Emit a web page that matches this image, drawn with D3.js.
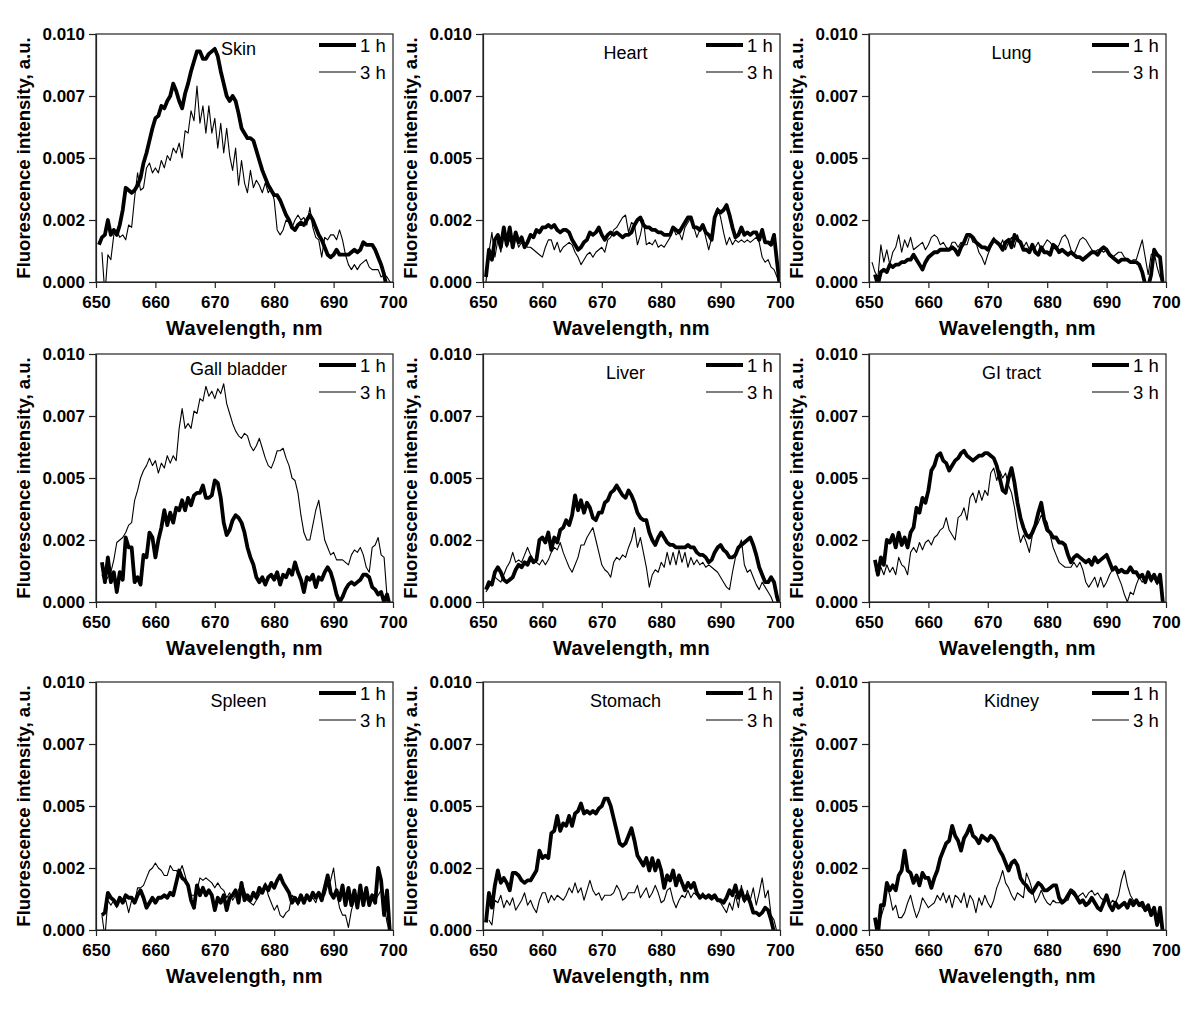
<!DOCTYPE html>
<html><head><meta charset="utf-8">
<script src="https://cdn.jsdelivr.net/npm/d3@7"></script>
<style>
body{margin:0;background:#fff}
svg{display:block}
text{font-family:"Liberation Sans",Arial,Helvetica,sans-serif;fill:#000}
</style>
</head><body>
<svg id="chart" width="1200" height="1012"></svg>
<script>
// ---- data (intensities in units of 1e-4 a.u.; null = no point) ----
const wavelengths = [
650.5,651,651.5,652,652.5,653,653.5,654,654.5,655,
655.5,656,656.5,657,657.5,658,658.5,659,659.5,660,
660.5,661,661.5,662,662.5,663,663.5,664,664.5,665,
665.5,666,666.5,667,667.5,668,668.5,669,669.5,670,
670.5,671,671.5,672,672.5,673,673.5,674,674.5,675,
675.5,676,676.5,677,677.5,678,678.5,679,679.5,680,
680.5,681,681.5,682,682.5,683,683.5,684,684.5,685,
685.5,686,686.5,687,687.5,688,688.5,689,689.5,690,
690.5,691,691.5,692,692.5,693,693.5,694,694.5,695,
695.5,696,696.5,697,697.5,698,698.5,699,699.5,700];

const organs = ["Skin","Heart","Lung","Gall bladder","Liver","GI tract","Spleen","Stomach","Kidney"];
const xAxisTitles = ["Wavelength, nm","Wavelength, nm","Wavelength, nm","Wavelength, nm","Wavelength, mn","Wavelength, nm","Wavelength, nm","Wavelength, nm","Wavelength, nm"];
const yAxisTitle = "Fluorescence intensity, a.u.";
const seriesNames = ["1 h","3 h"];
const xTicks = [650,660,670,680,690,700];
const yTicks = [0,0.0025,0.005,0.0075,0.01];
const yTickLabels = ["0.000","0.002","0.005","0.007","0.010"];
const UNIT = 1e-4;

const skin1h = [15,18,19,25,19,21,19,23,29,38, 37,36,37,39,42,48,52,57,62,66, 67,71,70,73,75,80,77,73,70,76, 80,85,89,93,93,90,90,92,93,94, 91,85,80,75,73,75,73,68,62,60, 58,58,57,53,49,45,42,39,37,35, 35,33,30,27,25,22,21,23,24,23, 25,27,25,22,19,17,14,11,10,11, 13,11,11,11,11,12,13,12,13,16, 15,15,15,13,10,7,3,-3,null,null];
const skin3h = [null,12,-5,11,9,19,21,18,19,17, 23,22,34,44,37,38,46,48,44,46, 44,49,46,51,49,54,52,56,50,61, 60,69,65,79,64,71,60,71,60,66, 54,64,52,62,51,45,54,39,49,40, 36,45,38,41,39,36,40,36,38,33, 21,19,21,25,24,22,25,27,25,26, 23,30,22,18,17,10,18,17,19,19, 17,21,17,11,7,5,7,5,7,8, 9,6,5,5,5,2,3,2,0,-1];

const heart1h = [2,13,9,17,19,14,22,15,22,14, 20,16,18,14,16,19,18,21,20,22, 22,23,22,23,21,20,21,21,20,17, 15,13,14,16,17,20,19,20,22,19, 17,19,20,19,20,19,18,19,19,20, 23,25,26,23,22,22,21,21,20,20, 19,19,19,22,21,20,22,24,26,26, 22,22,21,23,20,19,17,26,29,28, 29,31,27,22,18,19,22,19,20,19, 20,20,17,21,16,16,15,19,8,-2];
const heart3h = [0,12,20,10,17,12,19,14,17,15, 18,14,16,15,14,14,13,12,11,10, 14,17,17,13,16,12,14,15,16,15, 12,10,7,9,11,12,10,12,13,14, 12,17,18,21,22,24,26,27,20,24, 23,15,19,25,15,16,15,17,14,15, 14,16,18,22,19,20,17,22,24,26, 22,18,21,23,18,13,18,27,30,26, 20,15,18,15,17,16,17,16,17,16, 17,18,16,10,8,9,6,5,2,-2];

const lung1h = [null,3,-1,4,5,4,7,6,7,7, 8,8,9,9,11,9,7,5,8,10, 11,12,12,13,13,13,13,14,13,11, 14,16,19,19,18,16,15,14,14,13, 15,17,16,15,13,16,17,14,19,17, 16,13,13,12,15,12,11,14,12,12, 11,15,14,12,13,12,11,12,11,10, 10,9,10,11,12,12,11,13,14,13, 11,10,9,8,9,9,9,8,8,8, 7,4,-1,-2,3,13,11,10,-2,null];
const lung3h = [8,4,2,15,8,13,7,12,14,19, 12,17,14,18,13,14,15,16,13,15, 18,19,18,15,16,14,13,16,16,14, 16,15,15,19,16,16,12,10,7,11, 14,18,16,14,17,13,16,18,14,19, 15,14,16,13,14,14,16,13,15,17, 16,14,13,15,18,19,17,13,11,14, 17,18,17,15,13,12,13,13,12,13, 11,10,11,12,12,10,9,8,9,9, 13,17,10,3,11,12,6,2,-1,null];

const gall1h = [null,16,8,18,8,12,4,12,9,26, 22,22,8,10,7,19,18,28,26,18, 25,30,37,31,36,32,38,37,41,37, 42,39,43,44,44,47,42,42,43,49, 48,42,32,27,29,33,35,34,32,28, 22,18,15,10,8,10,7,10,11,9, 12,7,11,10,13,11,16,12,9,4, 10,9,11,6,10,9,12,14,12,8, 3,0,2,5,7,8,7,8,9,11, 11,10,6,5,3,4,0,3,-2,null];
const gall3h = [null,11,8,10,12,17,24,25,26,28, 31,32,41,45,50,53,55,58,55,57, 52,56,54,59,56,59,57,70,78,70, 72,70,77,76,82,81,87,83,85,82, 86,84,88,80,76,72,69,67,66,68, 67,63,61,63,66,62,58,55,54,57, 61,61,62,58,55,50,49,44,35,28, 25,25,31,37,41,33,25,22,19,20, 17,17,17,16,15,19,21,20,22,19, 14,12,22,23,26,19,18,2,-2,null];

const liver1h = [5,8,7,12,14,12,9,8,9,10, 13,15,14,16,15,18,16,17,25,26, 24,28,21,26,24,29,30,33,31,35, 43,37,41,36,40,38,34,33,36,36, 40,41,44,45,47,45,43,42,45,43, 40,36,34,33,33,28,25,23,26,28, 26,24,23,23,22,22,22,22,23,22, 22,20,19,19,18,16,17,20,22,23, 21,20,18,18,19,22,23,24,25,26, 23,19,14,11,8,8,10,8,2,-2];
const liver3h = [4,6,8,10,9,8,11,14,16,20, 16,17,16,19,22,19,17,16,15,17, 15,17,20,22,21,24,20,17,14,12, 15,18,23,23,26,28,30,25,20,15, 13,12,10,16,18,17,19,18,22,25, 30,22,26,20,14,6,11,13,12,16, 14,20,15,20,15,21,16,20,14,18, 15,17,15,16,14,15,14,13,12,10, 8,6,5,12,18,22,25,15,12,13, 10,7,5,8,6,4,2,-1,null,null];

const gi1h = [null,17,11,18,15,25,24,27,22,28, 23,26,22,28,30,38,36,42,40,45, 53,55,59,60,57,56,53,55,57,58, 60,61,59,58,57,58,59,59,60,60, 59,58,55,50,45,44,50,54,48,40, 34,30,27,26,28,31,36,40,33,29, 28,26,26,24,24,23,19,16,18,19, 18,17,16,17,15,18,16,17,18,19, 16,13,14,12,13,12,12,14,12,12, 10,11,8,12,9,11,8,11,-1,null];
const gi3h = [null,13,12,14,11,15,12,14,11,18, 15,14,11,20,22,20,24,21,24,25, 23,26,27,29,30,34,29,27,25,34, 35,38,33,42,44,40,45,41,45,43, 52,54,49,53,50,52,47,44,38,30, 24,27,24,20,27,30,32,35,34,32, 27,22,19,16,15,14,14,14,16,14, 16,13,8,6,8,10,6,10,6,8, 11,13,13,10,7,3,0,4,3,7, 10,8,9,11,8,10,7,9,-1,null];

const spleen1h = [null,6,7,15,13,12,10,13,11,14, 13,13,11,14,16,13,9,11,13,11, 13,13,14,13,15,14,19,24,21,20, 18,12,9,18,14,17,14,16,14,8, 13,11,14,8,13,14,16,11,19,12, 14,12,15,13,17,15,18,16,19,17, 20,22,19,17,15,11,13,11,14,11, 14,12,15,13,15,12,17,22,15,13, 16,12,18,10,17,10,16,9,18,10, 17,10,14,11,25,20,6,16,-2,null];
const spleen3h = [null,6,-3,12,10,12,9,13,11,12, 7,12,11,17,17,18,21,24,25,27, 25,24,22,22,26,24,24,23,26,22, 17,14,14,16,21,20,21,20,19,17, 19,17,16,13,15,12,14,16,19,16, 12,11,10,12,14,16,19,14,11,8, 10,6,5,7,8,14,13,10,13,11, 14,12,13,11,15,13,14,18,20,25, 15,9,6,6,1,8,12,13,13,12, 14,13,14,12,14,16,10,3,-1,null];

const stomach1h = [3,15,9,18,24,19,21,19,16,23, 23,22,20,19,20,20,22,24,32,29, 30,29,39,40,46,40,43,42,46,42, 47,48,51,47,48,47,48,47,49,50, 53,53,50,45,40,35,34,35,38,41, 36,30,28,26,29,24,29,24,28,24, 17,22,20,24,18,22,19,16,19,17, 19,15,13,14,13,14,13,14,12,12, 11,13,16,14,18,13,16,12,14,11, 7,7,6,7,9,8,4,-1,null,null];
const stomach3h = [null,4,2,12,11,14,9,12,10,13, 8,10,12,15,10,12,9,7,12,15, 15,11,14,12,14,13,12,14,17,15, 19,15,17,12,16,20,16,14,15,12, 14,14,14,15,18,16,12,13,15,15, 15,18,13,15,17,13,15,18,15,11, 12,16,17,12,9,12,14,13,16,13, 15,14,13,15,13,13,12,13,12,11, 9,7,11,8,14,9,18,11,16,12, 17,10,15,21,13,16,6,4,-1,null];

const kidney1h = [null,5,-2,10,10,19,16,18,16,22, 24,32,24,23,19,22,18,23,21,21, 17,21,24,29,32,35,36,42,38,36, 32,37,39,42,38,37,35,38,37,36, 38,37,35,32,30,27,24,27,28,26, 21,19,18,16,15,17,19,18,16,16, 17,18,18,13,11,12,14,16,15,13, 11,12,10,11,13,11,9,8,11,14, 10,8,11,9,10,11,9,12,10,12, 10,11,8,10,6,9,2,9,-2,null];
const kidney3h = [null,null,null,5,9,18,14,8,10,5, 5,7,11,14,9,5,8,13,11,9, 10,11,14,12,15,11,14,9,14,13, 11,15,9,14,12,7,13,10,14,11, 9,12,17,20,24,19,17,14,12,15, 14,13,23,20,16,11,13,16,13,11, 10,12,11,11,12,12,12,15,14,13, 14,15,13,15,16,14,15,13,12,12, 10,12,11,14,20,24,18,14,12,11, 10,9,8,8,6,7,5,3,-1,null];

const series1h = [skin1h,heart1h,lung1h,gall1h,liver1h,gi1h,spleen1h,stomach1h,kidney1h];
const series3h = [skin3h,heart3h,lung3h,gall3h,liver3h,gi3h,spleen3h,stomach3h,kidney3h];

// ---- layout ----
const colLeft = [96, 483, 869];
const rowTop = [34, 354, 682];
const W = 297, H = 248;
const lineWidths = [3.8, 1.1];

const svg = d3.select("#chart");

organs.forEach((name, i) => {
  const L = colLeft[i % 3], T = rowTop[Math.floor(i / 3)];
  const x = d3.scaleLinear().domain([650, 700]).range([0, W]);
  const y = d3.scaleLinear().domain([0, 0.01]).range([H, 0]);
  const g = svg.append("g").attr("transform", `translate(${L},${T})`);

  g.append("clipPath").attr("id", "clip" + i)
    .append("rect").attr("x", 0).attr("y", 0).attr("width", W).attr("height", H);

  // lines
  const pts = arr => wavelengths.map((w, k) => [w, arr[k]]);
  const line = d3.line()
    .defined(d => d[1] !== null && d[1] !== undefined)
    .x(d => x(d[0])).y(d => y(d[1] * UNIT));
  const lg = g.append("g").attr("clip-path", `url(#clip${i})`);
  [series1h[i], series3h[i]].forEach((arr, s) => {
    lg.append("path").datum(pts(arr))
      .attr("d", line).attr("fill", "none").attr("stroke", "#000")
      .attr("stroke-width", lineWidths[s]).attr("stroke-linejoin", "round").attr("stroke-linecap", "butt");
  });

  // frame
  g.append("rect").attr("width", W).attr("height", H)
    .attr("fill", "none").attr("stroke", "#222").attr("stroke-width", 1.2);

  // axes
  const xa = g.append("g").attr("transform", `translate(0,${H})`)
    .call(d3.axisBottom(x).tickValues(xTicks).tickFormat(d3.format("d")).tickSize(6).tickSizeOuter(0).tickPadding(8));
  const ya = g.append("g")
    .call(d3.axisLeft(y).tickValues(yTicks).tickFormat((d, k) => yTickLabels[k]).tickSize(7).tickSizeOuter(0).tickPadding(4));
  [xa, ya].forEach(a => {
    a.select(".domain").attr("stroke", "#222").attr("stroke-width", 1.2);
    a.selectAll(".tick line").attr("stroke", "#222").attr("stroke-width", 1.2);
    a.selectAll(".tick text").attr("font-size", 17).attr("font-weight", "bold")
      .attr("font-family", '"Liberation Sans",Arial,sans-serif').attr("fill", "#000");
  });

  // axis titles
  g.append("text").attr("x", W / 2).attr("y", H + 53)
    .attr("text-anchor", "middle").attr("font-size", 20).attr("font-weight", "bold")
    .attr("letter-spacing", 0.3).text(xAxisTitles[i]);
  g.append("text").attr("transform", `translate(-66,${H / 2}) rotate(-90)`)
    .attr("text-anchor", "middle").attr("font-size", 18.5).attr("font-weight", "bold")
    .text(yAxisTitle);

  // panel title
  g.append("text").attr("x", W / 2 - 6).attr("y", (i === 0 || i === 3) ? 21 : 25)
    .attr("text-anchor", "middle").attr("font-size", 18).text(name);

  // legend
  seriesNames.forEach((sn, s) => {
    const ly = s === 0 ? 11 : 38;
    g.append("line").attr("x1", W - 74).attr("x2", W - 37).attr("y1", ly).attr("y2", ly)
      .attr("stroke", "#000").attr("stroke-width", lineWidths[s]);
    g.append("text").attr("x", W - 33).attr("y", ly + 7)
      .attr("font-size", 18.5).text(sn);
  });
});
</script>
</body></html>
